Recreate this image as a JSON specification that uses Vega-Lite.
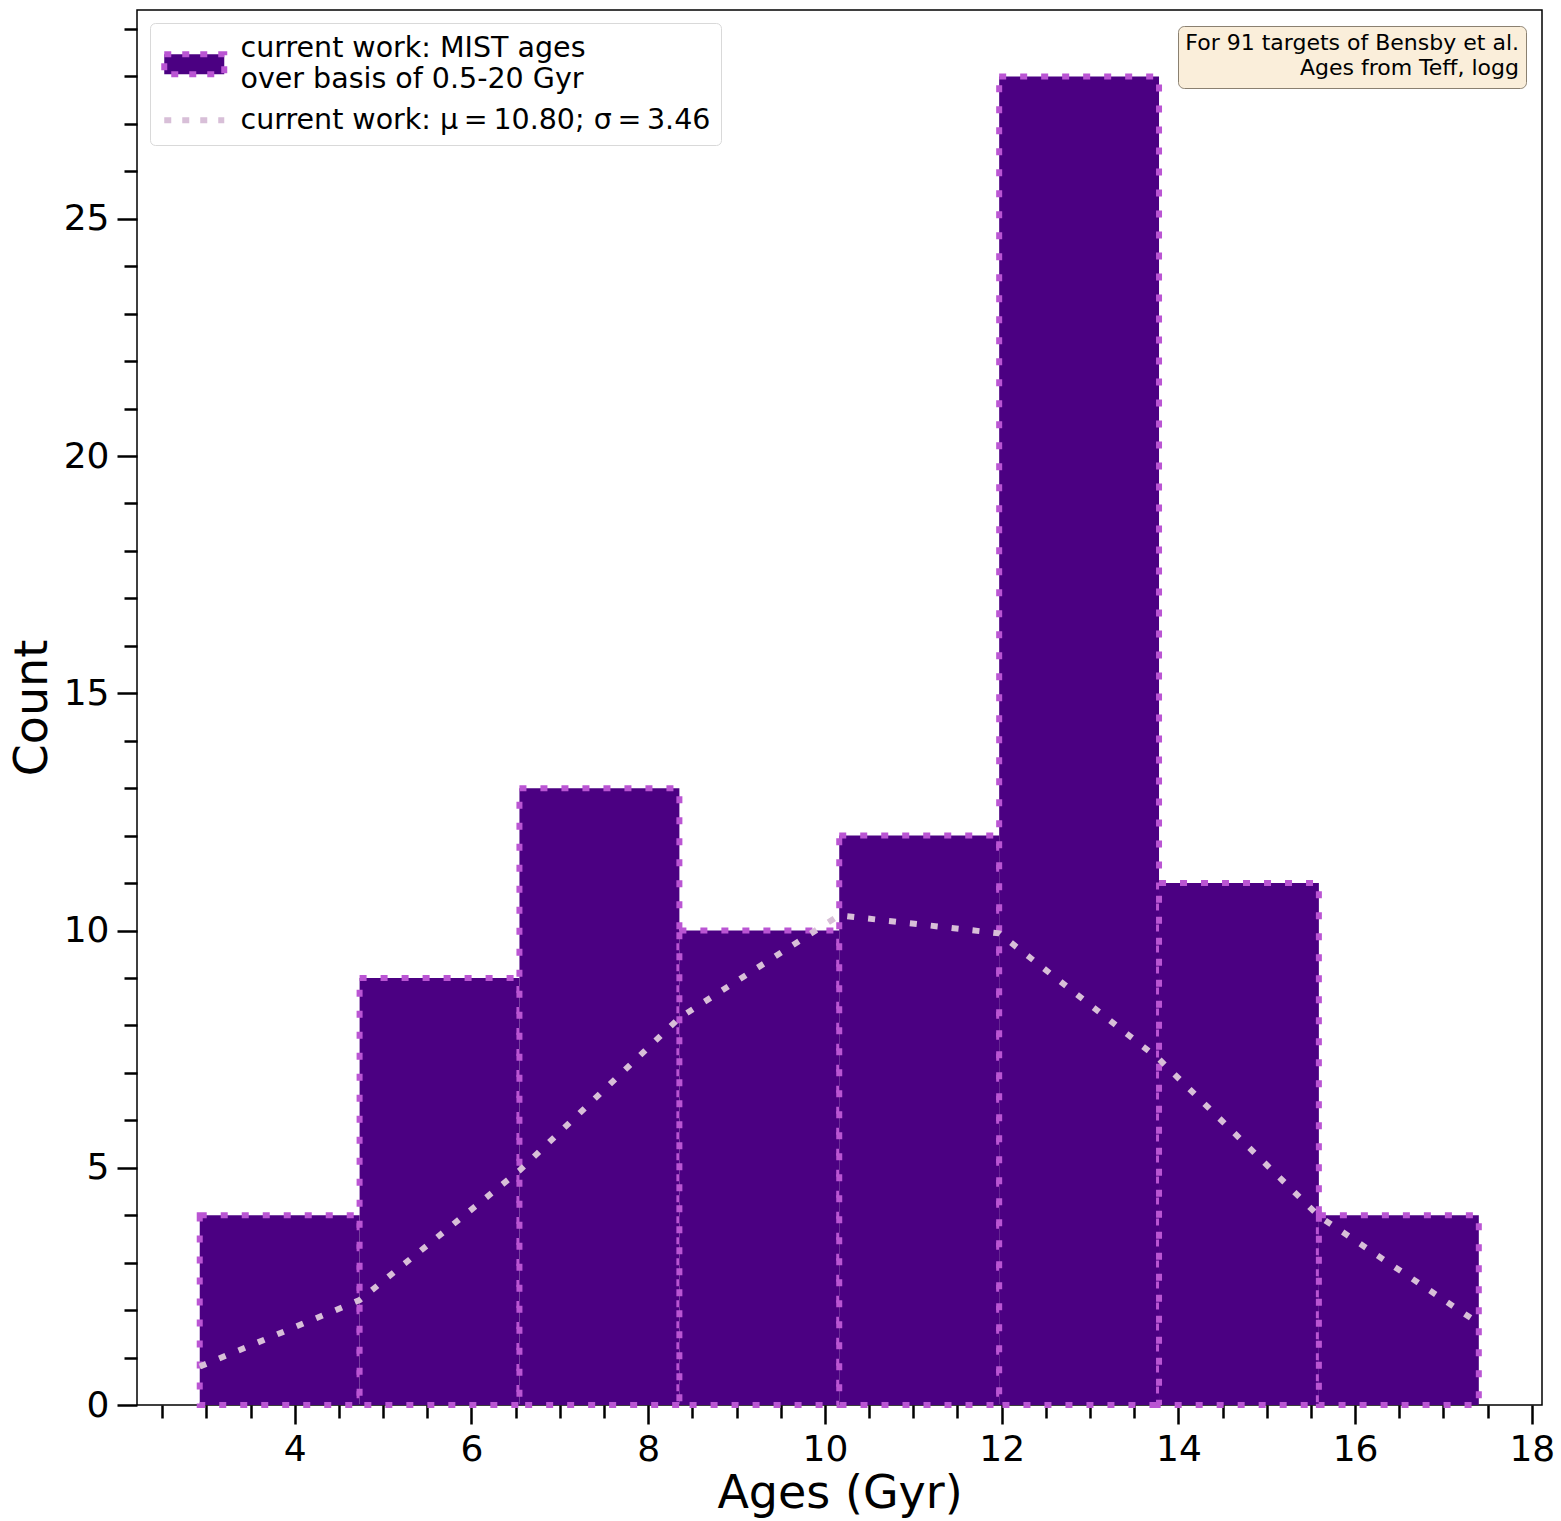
{
  "$schema": "https://vega.github.io/schema/vega-lite/v6.json",
  "width": 1405,
  "height": 1395,
  "autosize": {"type": "none"},
  "padding": {"left": 137, "top": 10, "right": 19, "bottom": 116},
  "background": "white",
  "config": {
    "view": {"stroke": "black", "strokeWidth": 1.5},
    "font": "DejaVu Sans",
    "axis": {"labelFont": "DejaVu Sans", "titleFont": "DejaVu Sans", "labelColor": "black", "titleColor": "black", "tickColor": "black", "domain": false, "grid": false, "titleFontWeight": "normal"},
    "legend": {"labelFont": "DejaVu Sans", "labelColor": "black", "titleFont": "DejaVu Sans", "titleColor": "black"}
  },
  "resolve": {"axis": {"x": "independent", "y": "independent"}},
  "layer": [
    {
      "data": {"values": [
        {"bin_start": 2.925, "bin_end": 4.734, "count": 4, "series": "hist"},
        {"bin_start": 4.734, "bin_end": 6.543, "count": 9, "series": "hist"},
        {"bin_start": 6.543, "bin_end": 8.353, "count": 13, "series": "hist"},
        {"bin_start": 8.353, "bin_end": 10.162, "count": 10, "series": "hist"},
        {"bin_start": 10.162, "bin_end": 11.972, "count": 12, "series": "hist"},
        {"bin_start": 11.972, "bin_end": 13.781, "count": 28, "series": "hist"},
        {"bin_start": 13.781, "bin_end": 15.59, "count": 11, "series": "hist"},
        {"bin_start": 15.59, "bin_end": 17.4, "count": 4, "series": "hist"}
      ]},
      "mark": {"type": "rect", "stroke": "#BA55D3", "strokeWidth": 6, "strokeDash": [7, 14], "strokeCap": "butt", "opacity": 1},
      "encoding": {
        "x": {"field": "bin_start", "type": "quantitative",
          "scale": {"domain": [2.215, 18.115], "nice": false, "zero": false},
          "axis": {"orient": "bottom", "values": [4, 6, 8, 10, 12, 14, 16, 18], "tickSize": 19, "tickWidth": 2.5, "labelFontSize": 36, "labelPadding": 8, "title": "Ages (Gyr)", "titleFontSize": 46, "titlePadding": 4, "labelFlush": false}},
        "x2": {"field": "bin_end"},
        "y": {"field": "count", "type": "quantitative",
          "scale": {"domain": [0, 29.4], "nice": false, "zero": true},
          "axis": {"orient": "left", "values": [0, 5, 10, 15, 20, 25], "tickSize": 20, "tickWidth": 2.5, "labelFontSize": 36, "labelPadding": 8, "title": "Count", "titleFontSize": 46, "titlePadding": 7, "labelFlush": false}},
        "y2": {"datum": 0},
        "color": {"field": "series", "type": "nominal",
          "scale": {"domain": ["hist", "fit"], "range": ["#4B0082", "#D8BFD8"]},
          "legend": {
            "orient": "top-left", "offset": 13, "padding": 10,
            "title": " ", "titleFontSize": 4, "titlePadding": 13,
            "fillColor": "white", "strokeColor": "#d9d9d9", "cornerRadius": 5,
            "labelFontSize": 28.5, "labelLimit": 2000, "labelOffset": 52, "rowPadding": 12,
            "symbolSize": 400,
            "symbolType": {"expr": "datum.value == 'fit' ? 'M-1,0H5' : 'M-1,-1H5V1H-1Z'"},
            "symbolStrokeColor": {"expr": "datum.value == 'fit' ? '#D8BFD8' : '#BA55D3'"},
            "symbolStrokeWidth": 6,
            "symbolDash": [7, 11],
            "symbolOpacity": 1,
            "labelBaseline": {"expr": "datum.value == 'hist' ? 'line-bottom' : 'middle'"},
            "labelExpr": "datum.value == 'hist' ? ['current work: MIST ages', 'over basis of 0.5-20 Gyr'] : 'current work: μ\u2009=\u200910.80; σ\u2009=\u20093.46'"
          }}
      }
    },
    {
      "data": {"values": [
        {"age": 2.925, "value": 0.81},
        {"age": 4.734, "value": 2.21},
        {"age": 6.543, "value": 4.94},
        {"age": 8.353, "value": 8.16},
        {"age": 10.162, "value": 10.32},
        {"age": 11.972, "value": 9.94},
        {"age": 13.781, "value": 7.29},
        {"age": 15.59, "value": 3.98},
        {"age": 17.4, "value": 1.72}
      ]},
      "mark": {"type": "line", "stroke": "#D8BFD8", "strokeWidth": 6, "strokeDash": [7, 14], "strokeCap": "butt"},
      "encoding": {
        "x": {"field": "age", "type": "quantitative",
          "axis": {"orient": "bottom", "values": [2.5, 3, 3.5, 4.5, 5, 5.5, 6.5, 7, 7.5, 8.5, 9, 9.5, 10.5, 11, 11.5, 12.5, 13, 13.5, 14.5, 15, 15.5, 16.5, 17, 17.5], "tickSize": 13, "tickWidth": 2.5, "labels": false, "title": null}},
        "y": {"field": "value", "type": "quantitative",
          "axis": {"orient": "left", "values": [1, 2, 3, 4, 6, 7, 8, 9, 11, 12, 13, 14, 16, 17, 18, 19, 21, 22, 23, 24, 26, 27, 28, 29], "tickSize": 13, "tickWidth": 2.5, "labels": false, "title": null}}
      }
    },
    {
      "data": {"values": [{"note": "annotation"}]},
      "mark": {"type": "point", "opacity": 0},
      "encoding": {
        "shape": {"field": "note", "type": "nominal",
          "legend": {
            "orient": "top-right", "offset": 16, "padding": 7,
            "title": ["For 91 targets of Bensby et al.", "Ages from Teff, logg"],
            "titleFontSize": 22, "titleFontWeight": "normal", "titleAlign": "right", "titleAnchor": "end",
            "titleLineHeight": 25, "titlePadding": 0, "titleLimit": 2000,
            "fillColor": "#FAEEDA", "strokeColor": "#8a8070", "cornerRadius": 6,
            "labelFontSize": 1, "labelOffset": 0, "rowPadding": 0,
            "symbolSize": 0, "symbolOpacity": 0, "symbolStrokeWidth": 0,
            "labelExpr": "''"
          }}
      }
    }
  ]
}
